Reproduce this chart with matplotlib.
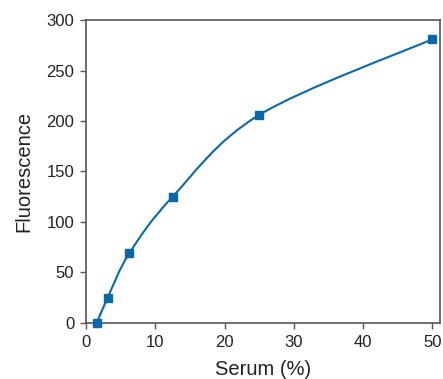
import numpy as np
import matplotlib
matplotlib.use("Agg")
from matplotlib import pyplot as plt
from matplotlib.path import Path
from matplotlib.patches import PathPatch

# ---------------------------- Data ---------------------------- #

serum = [1.5625, 3.125, 6.25, 12.5, 25, 50]
fluorescence = [0, 25, 69, 125, 206, 281]

x_ticks = [0, 10, 20, 30, 40, 50]
y_ticks = [0, 50, 100, 150, 200, 250, 300]

blue = '#0b68a6'
spine_color = '#555555'

plt.rcParams['font.family'] = ['Liberation Sans', 'DejaVu Sans']

# ---------------------------- Smooth curve ---------------------------- #

def smoothPath(xs, ys):
    # Catmull-Rom style bezier through the points
    pts = np.column_stack([xs, ys]).astype(float)
    n = len(pts)
    verts = [pts[0]]
    codes = [Path.MOVETO]
    for i in range(n - 1):
        p0 = pts[i - 1] if i > 0 else pts[i]
        p1 = pts[i]
        p2 = pts[i + 1]
        p3 = pts[i + 2] if i + 2 < n else pts[i + 1]
        c1 = p1 + (p2 - p0) / 6.0
        c2 = p2 - (p3 - p1) / 6.0
        verts += [c1, c2, p2]
        codes += [Path.CURVE4] * 3
    return Path(verts, codes)

# ---------------------------- Plot ---------------------------- #

fig = plt.figure(figsize=(4.43, 3.79), dpi=100)
ax = fig.add_axes([0.1941, 0.1478, 0.7991, 0.7994])

curve = PathPatch(smoothPath(serum, fluorescence), facecolor='none', edgecolor=blue, lw=1.5)
ax.add_patch(curve)
ax.plot(serum, fluorescence, linestyle='none', marker='s', markersize=5.3, color=blue, clip_on=False, zorder=3)

ax.set_xlim(0, 51.1)
ax.set_ylim(0, 300)
ax.set_xticks(x_ticks)
ax.set_yticks(y_ticks)

for spine in ax.spines.values():
    spine.set_color(spine_color)
    spine.set_linewidth(1.2)

ax.tick_params(axis='both', direction='out', length=4.5, width=1, color=spine_color, pad=4,
               labelsize=12, labelcolor='#222222')

ax.set_xlabel('Serum (%)', fontsize=14.5, color='#222222', labelpad=7)
ax.set_ylabel('Fluorescence', fontsize=14.5, color='#222222', labelpad=9)

fig.savefig('out.png', dpi=100)
